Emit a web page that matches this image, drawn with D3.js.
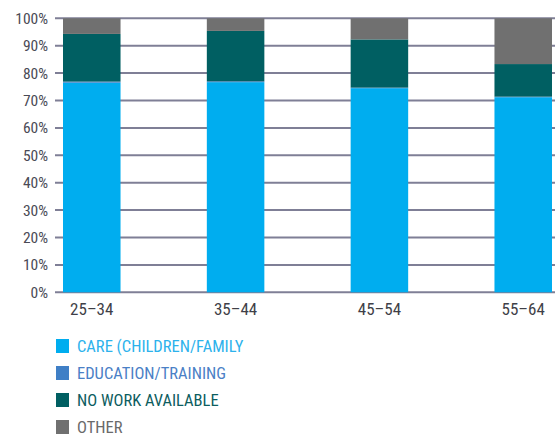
<!DOCTYPE html>
<html><head><meta charset="utf-8">
<script src="https://cdn.jsdelivr.net/npm/d3@7"></script>
<style>
body{margin:0;background:#fff;}
text{font-family:"Liberation Sans Narrow","Roboto Condensed","Open Sans",sans-serif;}
</style></head>
<body><svg id="c" width="555" height="440"></svg>
<script>
const categories = ["25–34","35–44","45–54","55–64"];
const seriesNames = ["CARE (CHILDREN/FAMILY","EDUCATION/TRAINING","NO WORK AVAILABLE","OTHER"];
const care     = [76.5, 76.7, 74.5, 71.2];
const education= [0.4, 0.3, 0.2, 0.2];
const noWork   = [17.4, 18.4, 17.6, 11.9];
const other    = [5.7, 4.6, 7.7, 16.7];
const yTicks = [0,10,20,30,40,50,60,70,80,90,100];
const colors = ["#00adef","#3f7fc6","#005f62","#707070"];
const textColors = ["#2db2ec","#4a80c6","#0d5d60","#6a6a6a"];

const rows = categories.map((c,i)=>({cat:c, s0:care[i], s1:education[i], s2:noWork[i], s3:other[i]}));
const stack = d3.stack().keys(["s0","s1","s2","s3"])(rows);

const svg = d3.select("#c");
const x = d3.scaleBand().domain(categories).range([63,552]).paddingInner(0.6).paddingOuter(0);
const y = d3.scaleLinear().domain([0,100]).range([292.3,18.3]);

// gridlines
svg.append("g").selectAll("line").data(yTicks).join("line")
  .attr("x1",55).attr("x2",555)
  .attr("y1",d=>y(d)).attr("y2",d=>y(d))
  .attr("stroke","#7f7f96").attr("stroke-width",2);

// y labels
svg.append("g").selectAll("text").data(yTicks).join("text")
  .attr("x",48).attr("y",d=>y(d)).attr("dy","0.35em")
  .attr("text-anchor","end").attr("font-size",15.5).attr("fill","#4a4a55")
  .text(d=>d+"%");

// bars
svg.append("g").selectAll("g").data(stack).join("g")
  .attr("fill",(d,i)=>colors[i])
  .selectAll("rect").data(d=>d).join("rect")
  .attr("x",d=>x(d.data.cat)).attr("width",x.bandwidth())
  .attr("y",d=>y(d[1])).attr("height",d=>y(d[0])-y(d[1]));

// x labels
svg.append("g").selectAll("text").data(categories).join("text")
  .attr("x",d=>x(d)+x.bandwidth()/2).attr("y",315)
  .attr("text-anchor","middle").attr("font-size",17).attr("fill","#3f3f48")
  .text(d=>d);

// legend
const lg = svg.append("g").selectAll("g").data(seriesNames).join("g")
  .attr("transform",(d,i)=>`translate(56,${346+i*27})`);
lg.append("rect").attr("x",0).attr("y",-7).attr("width",13).attr("height",14)
  .attr("fill",(d,i)=>colors[i]);
lg.append("text").attr("x",21).attr("y",0).attr("dy","0.35em")
  .attr("font-size",16.5).attr("fill",(d,i)=>textColors[i]).text(d=>d);
</script></body></html>
